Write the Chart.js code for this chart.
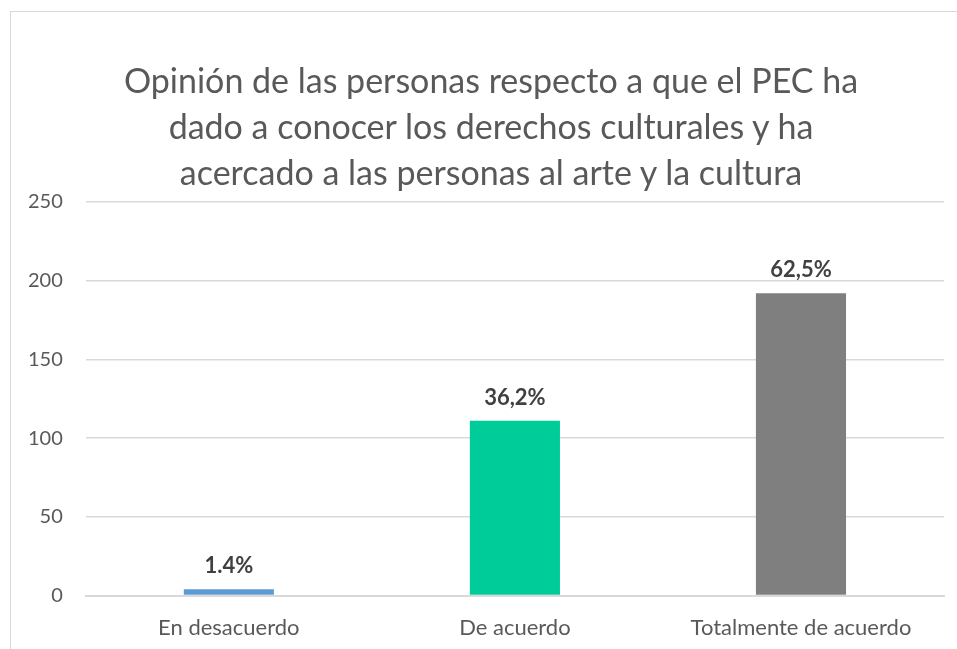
<!DOCTYPE html>
<html>
<head>
<meta charset="utf-8">
<script src="https://cdn.jsdelivr.net/npm/chart.js@4"></script>
<style>
  html, body { margin: 0; padding: 0; background: #fff; overflow: hidden; }
  #box {
    position: absolute; left: 10px; top: 11px;
    width: 960px; height: 650px;
    border: 1px solid #d9d9d9;
    background: #fff;
    overflow: hidden;
  }
  #chart { display: block; margin-left: -6px; }
  #title {
    position: absolute; left: 91px; top: 57px; width: 800px;
    text-align: center;
    font-family: Lato, "Open Sans", sans-serif;
    font-size: 34px; line-height: 46px;
    color: #595959;
  }
</style>
</head>
<body>
<div id="box"><canvas id="chart" width="952" height="651"></canvas></div>
<div id="title"></div>
<script>
const categories = ["En desacuerdo", "De acuerdo", "Totalmente de acuerdo"];
const counts = [4, 111, 192];
const pctLabels = ["1.4%", "36,2%", "62,5%"];
const barColors = ["#5b9bd5", "#00cc99", "#7f7f7f"];
const yTicks = [0, 50, 100, 150, 200, 250];
const titleLines = [
  "Opinión de las personas respecto a que el PEC ha",
  "dado a conocer los derechos culturales y ha",
  "acercado a las personas al arte y la cultura"
];

const FONT = "Lato, 'Open Sans', sans-serif";

// title as plain text lines
const titleEl = document.getElementById("title");
titleLines.forEach(line => {
  const d = document.createElement("div");
  d.textContent = line;
  titleEl.appendChild(d);
});

// labels above bars
const barLabels = {
  id: "barLabels",
  afterDatasetsDraw(chart) {
    const ctx = chart.ctx;
    const meta = chart.getDatasetMeta(0);
    ctx.save();
    ctx.font = "bold 22px " + FONT;
    ctx.fillStyle = "#404040";
    ctx.textAlign = "center";
    ctx.textBaseline = "bottom";
    meta.data.forEach((bar, i) => {
      ctx.fillText(pctLabels[i], bar.x, bar.y - 12);
    });
    ctx.restore();
  }
};

new Chart(document.getElementById("chart").getContext("2d"), {
  type: "bar",
  data: {
    labels: categories,
    datasets: [{
      data: counts,
      backgroundColor: barColors,
      barPercentage: 0.63,
      categoryPercentage: 0.5
    }]
  },
  options: {
    responsive: false,
    animation: false,
    layout: { padding: { left: 0, right: 13, top: 190, bottom: 3 } },
    plugins: {
      legend: { display: false },
      tooltip: { enabled: false },
      title: { display: false }
    },
    scales: {
      x: {
        grid: { display: false, drawTicks: false },
        border: { color: "#d9d9d9", width: 2 },
        ticks: { color: "#595959", font: { family: FONT, size: 22 }, padding: 19 }
      },
      y: {
        min: 0, max: 250,
        afterBuildTicks(scale) { scale.ticks = yTicks.map(v => ({ value: v })); },
        grid: { color: "#d9d9d9", lineWidth: 1.5, drawTicks: false },
        border: { display: false },
        ticks: { color: "#595959", font: { family: FONT, size: 20 }, padding: 23 }
      }
    }
  },
  plugins: [barLabels]
});
</script>
</body>
</html>
